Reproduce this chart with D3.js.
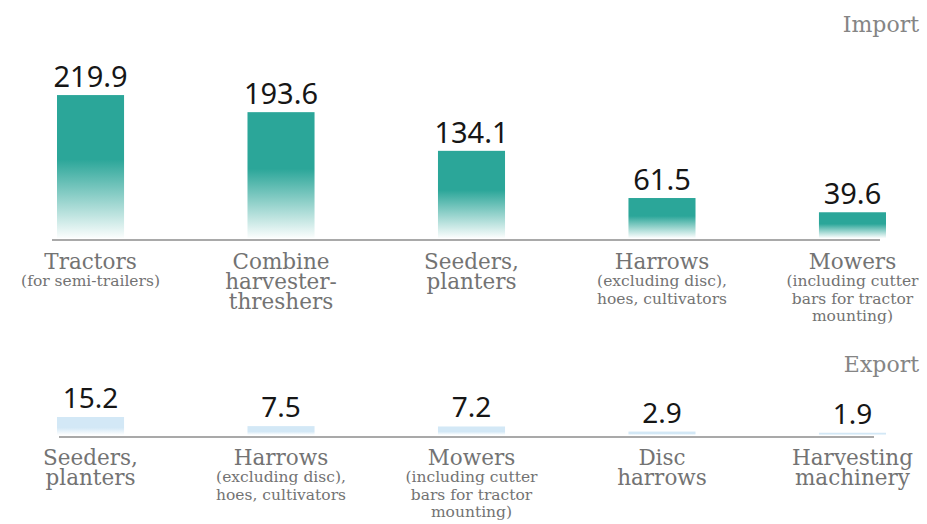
<!DOCTYPE html>
<html>
<head>
<meta charset="utf-8">
<script src="https://cdn.jsdelivr.net/npm/d3@7"></script>
<style>
	body { margin: 0; background: #fff; }
	svg { display: block; }
	.val { font-family: "Noto Sans", "DejaVu Sans", sans-serif; fill: #161616; }
	.cat { font-family: "DejaVu Serif", serif; fill: #737373; }
</style>
</head>
<body>
<svg id="chart" width="927" height="524"></svg>
<script>
// Import, top panel
const importValues = [219.9, 193.6, 134.1, 61.5, 39.6]
const importNames  = [["Tractors"], ["Combine", "harvester-", "threshers"], ["Seeders,", "planters"], ["Harrows"], ["Mowers"]]
const importNotes  = [["(for semi-trailers)"], [], [], ["(excluding disc),", "hoes, cultivators"], ["(including cutter", "bars for tractor", "mounting)"]]

// Export, bottom panel
const exportValues = [15.2, 7.5, 7.2, 2.9, 1.9]
const exportNames  = [["Seeders,", "planters"], ["Harrows"], ["Mowers"], ["Disc", "harrows"], ["Harvesting", "machinery"]]
const exportNotes  = [[], ["(excluding disc),", "hoes, cultivators"], ["(including cutter", "bars for tractor", "mounting)"], [], []]

const panelTitles = ["Import", "Export"]

const svg = d3.select("#chart")
const defs = svg.append("defs")

// bar fill: solid on top, fading out towards the baseline
function fade(id, color, solidTo){
	let g = defs.append("linearGradient")
		.attr("id", id)
		.attr("x1", 0).attr("y1", 0).attr("x2", 0).attr("y2", 1)
	g.append("stop").attr("offset", 0).attr("stop-color", color)
	g.append("stop").attr("offset", solidTo).attr("stop-color", color)
	g.append("stop").attr("offset", 1).attr("stop-color", color).attr("stop-opacity", 0.02)
}
fade("gImport", "#2ba699", 0.45)
fade("gExport", "#d3e8f6", 0.6)

const x = d3.scaleBand()
	.domain(d3.range(5))
	.range([57, 886])
	.paddingInner(0.648)
	.paddingOuter(0)

function panel({values, names, notes, title, y, titleY, lineFrom, lineTo, fill, valueSize, valueGap, nameGap}){
	let base = y.range()[0]
	let g = svg.append("g")

	g.selectAll("rect.bar")
		.data(values)
		.join("rect")
		.attr("class", "bar")
		.attr("x", (d, i) => x(i))
		.attr("width", x.bandwidth())
		.attr("y", d => y(d))
		.attr("height", d => base - y(d))
		.attr("fill", "url(#" + fill + ")")

	g.selectAll("text.val")
		.data(values)
		.join("text")
		.attr("class", "val")
		.attr("x", (d, i) => x(i) + x.bandwidth() / 2)
		.attr("y", d => y(d) - valueGap)
		.attr("text-anchor", "middle")
		.style("font-size", valueSize + "px")
		.text(d => d3.format(".1f")(d))

	g.append("line")
		.attr("x1", lineFrom).attr("x2", lineTo)
		.attr("y1", base + 2).attr("y2", base + 2)
		.attr("stroke", "#8c8c8c")
		.attr("stroke-width", 1.5)

	// category names, then smaller notes beneath
	names.forEach((lines, i) => {
		let cx = x(i) + x.bandwidth() / 2
		let t = g.append("text")
			.attr("class", "cat")
			.attr("text-anchor", "middle")
			.style("font-size", "21.5px")
		lines.forEach((s, k) => {
			t.append("tspan").attr("x", cx).attr("y", base + nameGap + k * 20).text(s)
		})
		if (!notes[i].length) return
		let n = g.append("text")
			.attr("class", "cat")
			.attr("text-anchor", "middle")
			.style("font-size", "15.5px")
		notes[i].forEach((s, k) => {
			n.append("tspan").attr("x", cx).attr("y", base + nameGap + 17 + k * 17.5).text(s)
		})
	})

	g.append("text")
		.attr("class", "cat")
		.attr("x", 919)
		.attr("y", titleY)
		.attr("text-anchor", "end")
		.style("font-size", "22px")
		.style("fill", "#858585")
		.text(title)
}

panel({
	values: importValues, names: importNames, notes: importNotes, title: panelTitles[0],
	y: d3.scaleLinear().domain([0, 220]).range([238, 95]),
	titleY: 32, lineFrom: 52, lineTo: 880, fill: "gImport", valueSize: 29, valueGap: 8, nameGap: 31
})

panel({
	values: exportValues, names: exportNames, notes: exportNotes, title: panelTitles[1],
	y: d3.scaleLinear().domain([0, 15.2]).range([435, 417]),
	titleY: 372, lineFrom: 59, lineTo: 874, fill: "gExport", valueSize: 28, valueGap: 9, nameGap: 30
})
</script>
</body>
</html>
